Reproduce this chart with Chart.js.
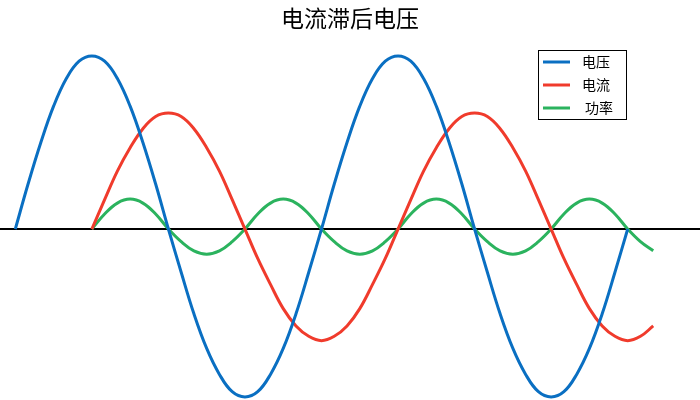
<!DOCTYPE html>
<html>
<head>
<meta charset="utf-8">
<script src="https://cdn.jsdelivr.net/npm/chart.js@4/dist/chart.umd.min.js"></script>
<style>
  html, body { margin: 0; padding: 0; background: #fff; }
  #wrap { width: 700px; height: 400px; }
</style>
</head>
<body>
<div id="wrap"><canvas id="waveChart"></canvas></div>
<script>
// phase in degrees, shared by all three series
const phaseDeg = [0, 15, 30, 45, 60, 75, 90, 105, 120, 135, 150, 165, 180, 195, 210, 225, 240,
  255, 270, 285, 300, 315, 330, 345, 360, 375, 390, 405, 420, 435, 450, 465, 480, 495, 510,
  525, 540, 555, 570, 585, 600, 615, 630, 645, 660, 675, 690, 705, 720, 735, 750];

const seriesNames = ["电压", "电流", "功率"];
const seriesColors = ["#0a6fc2", "#f03b2c", "#2bb35e"];

// voltage: 0° .. 720°
const voltage = [0, 0.26, 0.5, 0.71, 0.87, 0.97, 1.0, 0.97, 0.87, 0.71, 0.5, 0.26, 0,
  -0.25, -0.49, -0.69, -0.84, -0.94, -0.97, -0.94, -0.84, -0.69, -0.49, -0.25, 0,
  0.26, 0.5, 0.71, 0.87, 0.97, 1.0, 0.97, 0.87, 0.71, 0.5, 0.26, 0,
  -0.25, -0.49, -0.69, -0.84, -0.94, -0.97, -0.94, -0.84, -0.69, -0.49, -0.25, 0];

// current: 90° .. 750°
const current = [0, 0.17, 0.335, 0.47, 0.58, 0.65, 0.67, 0.65, 0.58, 0.47, 0.335, 0.17, 0,
  -0.17, -0.32, -0.46, -0.56, -0.62, -0.645, -0.62, -0.56, -0.46, -0.32, -0.17, 0,
  0.17, 0.335, 0.47, 0.58, 0.65, 0.67, 0.65, 0.58, 0.47, 0.335, 0.17, 0,
  -0.17, -0.32, -0.46, -0.56, -0.62, -0.645, -0.62, -0.56];

// power: 90° .. 750°
const power = [0, 0.087, 0.15, 0.173, 0.15, 0.087, 0, -0.073, -0.126, -0.145, -0.126, -0.073,
  0, 0.087, 0.15, 0.173, 0.15, 0.087, 0, -0.073, -0.126, -0.145, -0.126, -0.073,
  0, 0.087, 0.15, 0.173, 0.15, 0.087, 0, -0.073, -0.126, -0.145, -0.126, -0.073,
  0, 0.087, 0.15, 0.173, 0.15, 0.087, 0, -0.073, -0.126];

function toPoints(values, startIndex) {
  return values.map((v, i) => ({ x: phaseDeg[startIndex + i], y: v }));
}

// black zero line across the whole plot
const zeroLine = {
  id: "zeroLine",
  beforeDatasetsDraw(chart) {
    const { ctx, chartArea, scales } = chart;
    const y = scales.y.getPixelForValue(0);
    ctx.save();
    ctx.strokeStyle = "#000";
    ctx.lineWidth = 2;
    ctx.beginPath();
    ctx.moveTo(chartArea.left, y);
    ctx.lineTo(chartArea.right, y);
    ctx.stroke();
    ctx.restore();
  },
};

// boxed legend sitting inside the plot, top right
const boxLegend = {
  id: "boxLegend",
  afterDatasetsDraw(chart) {
    const ctx = chart.ctx;
    ctx.save();
    ctx.fillStyle = "#fff";
    ctx.fillRect(538.5, 50.5, 88, 69);
    ctx.strokeStyle = "#000";
    ctx.lineWidth = 1;
    ctx.strokeRect(538.5, 50.5, 88, 69);
    const rows = [62, 85, 108];
    const textX = [582, 582, 585];
    ctx.font = '14px "Noto Sans CJK SC", sans-serif';
    ctx.textBaseline = "middle";
    chart.data.datasets.forEach((ds, i) => {
      ctx.strokeStyle = ds.borderColor;
      ctx.lineWidth = 3;
      ctx.beginPath();
      ctx.moveTo(543, rows[i]);
      ctx.lineTo(570, rows[i]);
      ctx.stroke();
      ctx.fillStyle = "#000";
      ctx.fillText(ds.label, textX[i], rows[i]);
    });
    ctx.restore();
  },
};

const ctx = document.getElementById("waveChart").getContext("2d");
new Chart(ctx, {
  type: "line",
  data: {
    datasets: [
      { label: seriesNames[0], data: toPoints(voltage, 0), borderColor: seriesColors[0] },
      { label: seriesNames[1], data: toPoints(current, 6), borderColor: seriesColors[1] },
      { label: seriesNames[2], data: toPoints(power, 6), borderColor: seriesColors[2] },
    ].map((d) => ({
      ...d,
      borderWidth: 3,
      pointRadius: 0,
      fill: false,
      tension: 0.4,
    })),
  },
  options: {
    responsive: true,
    maintainAspectRatio: false,
    animation: false,
    layout: { padding: 0 },
    plugins: {
      legend: { display: false },
      tooltip: { enabled: false },
      title: {
        display: true,
        text: "电流滞后电压",
        color: "#000",
        font: { family: '"Noto Sans CJK SC", sans-serif', size: 23, weight: "normal" },
        padding: { top: 4, bottom: 0 },
      },
    },
    scales: {
      x: { type: "linear", display: false, min: -18, max: 805 },
      y: { display: false, min: -0.988, max: 1.141 },
    },
  },
  plugins: [zeroLine, boxLegend],
});
</script>
</body>
</html>
